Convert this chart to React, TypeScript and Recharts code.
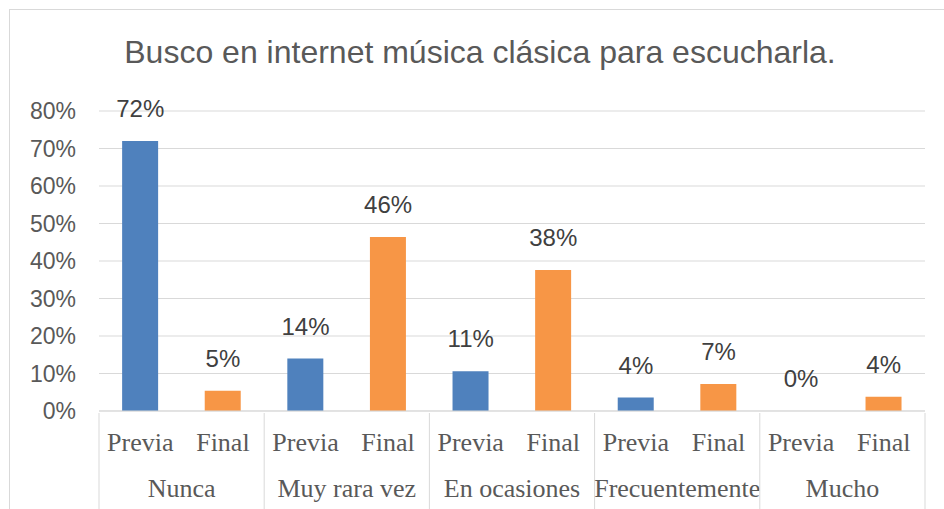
import { Bar, CartesianGrid, Cell, ComposedChart, LabelList, Line, XAxis, YAxis } from "recharts"

const GROUPS = ["Nunca", "Muy rara vez", "En ocasiones", "Frecuentemente", "Mucho"]
const PHASES = ["Previa", "Final"]
const PREVIA = [72, 14, 10.6, 3.6, 0]
const FINAL = [5.4, 46.4, 37.6, 7.2, 3.8]
const Y_TICKS = [0, 10, 20, 30, 40, 50, 60, 70, 80]

const PHASE_COLORS = ["#4f81bd", "#f79646"]

const data = GROUPS.flatMap((group, i) => [
  { key: `${group}-previa`, group, phase: PHASES[0], value: PREVIA[i], colorIdx: 0 },
  { key: `${group}-final`, group, phase: PHASES[1], value: FINAL[i], colorIdx: 1 },
])

const W = 944
const H = 509
const LEFT = 99
const RIGHT = 19
const BAND = (W - LEFT - RIGHT) / data.length
const SERIF = "'Liberation Serif', 'DejaVu Serif', serif"
const SANS = "'Liberation Sans', Arial, sans-serif"

function CategoryTick(props: any) {
  const { x, y, payload } = props
  const row = data[payload.index]
  const first = payload.index % 2 === 0
  const left = x - BAND / 2
  return (
    <g>
      <text x={x} y={y + 38} textAnchor="middle" fill="#595959" fontSize={26} fontFamily={SERIF}>
        {row.phase}
      </text>
      {first && (
        <>
          <line x1={left} x2={left} y1={y} y2={y + 100} stroke="#d9d9d9" />
          <text x={left + BAND} y={y + 84} textAnchor="middle" fill="#595959" fontSize={26} fontFamily={SERIF}>
            {row.group}
          </text>
        </>
      )}
      {payload.index === data.length - 1 && (
        <line x1={x + BAND / 2} x2={x + BAND / 2} y1={y} y2={y + 100} stroke="#d9d9d9" />
      )}
    </g>
  )
}

export default function App() {
  return (
    <div
      style={{
        position: "absolute",
        left: 0,
        top: 0,
        width: W,
        height: H,
        overflow: "hidden",
        background: "#fff",
        fontFamily: SANS,
      }}
    >
      <div
        style={{
          position: "absolute",
          left: 9,
          top: 9,
          width: W,
          height: H + 20,
          border: "1px solid #d9d9d9",
        }}
      />
      <div
        style={{
          position: "absolute",
          left: 0,
          width: 960,
          top: 34,
          textAlign: "center",
          fontSize: 32,
          color: "#595959",
        }}
      >
        Busco en internet música clásica para escucharla.
      </div>
      <div style={{ position: "absolute", left: 0, top: 0 }}>
        <ComposedChart
          width={W}
          height={H}
          data={data}
          margin={{ top: 111, right: RIGHT, left: 0, bottom: 0 }}
          barCategoryGap="28%"
        >
          <CartesianGrid vertical={false} stroke="#d9d9d9" />
          <XAxis
            dataKey="key"
            height={98}
            interval={0}
            axisLine={{ stroke: "#d9d9d9" }}
            tickLine={false}
            tickSize={0}
            tick={<CategoryTick />}
          />
          <YAxis
            width={LEFT}
            domain={[0, 80]}
            ticks={Y_TICKS}
            tickFormatter={(v) => `${v}%`}
            axisLine={false}
            tickLine={false}
            tickSize={0}
            tickMargin={23}
            tick={{ fill: "#595959", fontSize: 23, fontFamily: SANS }}
          />
          <Bar dataKey="value" isAnimationActive={false}>
            {data.map((d) => (
              <Cell key={d.key} fill={PHASE_COLORS[d.colorIdx]} />
            ))}
          </Bar>
          <Line
            dataKey="value"
            stroke="none"
            dot={false}
            activeDot={false}
            isAnimationActive={false}
          >
            <LabelList
              dataKey="value"
              position="top"
              offset={24}
              formatter={(v: any) => `${Math.round(Number(v))}%`}
              fill="#404040"
              fontSize={24}
              fontFamily={SANS}
            />
          </Line>
        </ComposedChart>
      </div>
    </div>
  )
}
